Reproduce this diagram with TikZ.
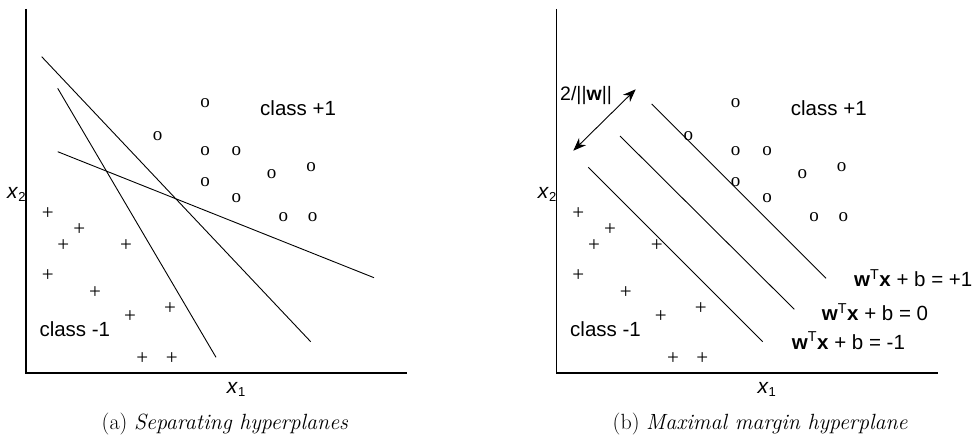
\documentclass[tikz,border=0pt]{standalone}
\usepackage{fontspec}
\newfontfamily\arialf{Liberation Sans}
\newfontfamily\tnrf{Liberation Serif}
\usetikzlibrary{arrows.meta}
\tikzset{
  axis/.style={line width=1.2pt},
  hyp/.style={line width=0.9pt},
  circmark/.style={font=\tnrf\fontsize{19}{19}\selectfont, inner sep=0pt},
  plusmark/.style={font=\tnrf\fontsize{21}{21}\selectfont, inner sep=0pt},
  lbl/.style={font=\arialf\fontsize{20.5}{24}\selectfont, inner sep=0pt},
  axlbl/.style={font=\arialf\fontsize{21}{24}\selectfont, inner sep=0pt},
  caplbl/.style={font=\fontsize{22}{26}\selectfont, inner sep=0pt},
  dimarrow/.style={line width=0.9pt, {Stealth[length=13pt,width=10pt]}-{Stealth[length=13pt,width=10pt]}}
}
\newcommand\xlab[1]{\textit{x}\raisebox{-3pt}{\fontsize{13}{13}\selectfont #1}}
\newcommand\mypanel[1]{%
  \coordinate (#1top) at (26,9);
  \coordinate (#1org) at (26,373);
  \coordinate (#1right) at (407,373);
  \draw[axis] (#1top) -- (#1org) -- (#1right);
  \node[axlbl, anchor=base west] (#1xtwo) at (7,198.3) {\xlab{2}};
  \node[axlbl, anchor=base west] (#1xone) at (226.7,393.3) {\xlab{1}};
  \foreach \px/\py [count=\i] in {205/103.3, 157.7/136, 205/151, 236.3/151, 205/181.7, 236.3/197.7, 271.7/174, 311/166.7, 283.3/217.3, 312.7/217.3}
    \node[circmark] (#1o\i) at (\px,\py) {o};
  \foreach \px/\py [count=\i] in {47.7/213.3, 79.3/229.3, 63.3/246, 126/246, 47.7/276, 95/292.7, 170/308.3, 130/316.7, 142.3/358.3, 171.7/358.3}
    \node[plusmark] (#1p\i) at (\px,\py) {+};
  \node[lbl, anchor=base west] (#1cpos) at (260,115) {class +1};
  \node[lbl, anchor=base west] (#1cneg) at (39.3,336) {class -1};
}
\begin{document}
\begin{tikzpicture}[x=1pt,y=-1pt]
\useasboundingbox (0,0) rectangle (974,436);
% ---------- panel (a)
\mypanel{a}
\coordinate (aA1) at (41.7,56.7);  \coordinate (aA2) at (310.7,341.7);
\coordinate (aB1) at (57.7,88.3);  \coordinate (aB2) at (216,357.3);
\coordinate (aC1) at (57.7,151.7); \coordinate (aC2) at (374,277.7);
\draw[hyp] (aA1) -- (aA2);
\draw[hyp] (aB1) -- (aB2);
\draw[hyp] (aC1) -- (aC2);
\node[caplbl, anchor=base] (acap) at (225,429) {(a) \textit{Separating hyperplanes}};
% ---------- panel (b)
\begin{scope}[xshift=530.7pt]
\mypanel{b}
\coordinate (bL1s) at (121,104);   \coordinate (bL1e) at (295.3,278.3);
\coordinate (bL2s) at (89.3,136);  \coordinate (bL2e) at (263.6,309.3);
\coordinate (bL3s) at (57.6,167.3); \coordinate (bL3e) at (232,341.7);
\draw[hyp] (bL1s) -- (bL1e);
\draw[hyp] (bL2s) -- (bL2e);
\draw[hyp] (bL3s) -- (bL3e);
\coordinate (bm1) at (42.6,150.7); \coordinate (bm2) at (105,89.3);
\draw[dimarrow] (bm1) -- (bm2);
\node[lbl, font=\arialf\fontsize{19.5}{22}\selectfont, anchor=base west] (bmargin) at (29.3,100) {2/||\textbf{w}||};
\node[lbl, anchor=base west] (beq1) at (323.3,286.7) {\textbf{w}\textsuperscript{T}\textbf{x} + b = +1};
\node[lbl, anchor=base west] (beq0) at (291,320.7) {\textbf{w}\textsuperscript{T}\textbf{x} + b = 0};
\node[lbl, anchor=base west] (beqm) at (261,349.3) {\textbf{w}\textsuperscript{T}\textbf{x} + b = -1};
\node[caplbl, anchor=base] (bcap) at (229.5,429) {(b) \textit{Maximal margin hyperplane}};
\end{scope}
\end{tikzpicture}
\end{document}
